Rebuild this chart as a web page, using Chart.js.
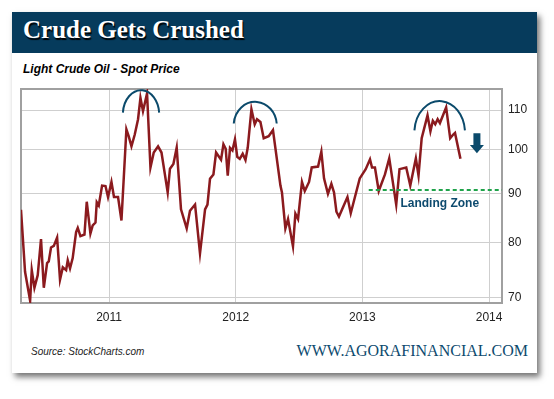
<!DOCTYPE html>
<html><head><meta charset="utf-8">
<script src="https://cdn.jsdelivr.net/npm/chart.js@4"></script>
<style>
html,body{margin:0;padding:0;background:#fff;}
body{width:554px;height:399px;position:relative;overflow:hidden;}
#card{position:absolute;left:12px;top:12px;width:525px;height:361px;background:#fff;box-shadow:3px 4px 6px rgba(0,0,0,0.55);}
#band{position:absolute;left:12px;top:12px;width:525px;height:41px;background:#063b5c;}
#title{position:absolute;left:23px;top:16px;font:bold 25px "Liberation Serif";color:#fff;text-shadow:1px 2px 1px #000;white-space:nowrap;}
#sub{position:absolute;left:23px;top:62px;font:italic bold 12px "Liberation Sans";color:#000;white-space:nowrap;}
#src{position:absolute;left:31px;top:346px;font:italic 10px "Liberation Sans";color:#222;white-space:nowrap;}
#web{position:absolute;right:26px;top:342px;font:16px "Liberation Serif";color:#0d4a6e;white-space:nowrap;}
#wrap{position:absolute;left:0;top:0;width:554px;height:399px;}
</style></head>
<body>
<div id="card"></div>
<div id="band"></div>
<div id="title">Crude Gets Crushed</div>
<div id="sub">Light Crude Oil - Spot Price</div>
<div id="src">Source: StockCharts.com</div>
<div id="web">WWW.AGORAFINANCIAL.COM</div>
<div id="wrap"><canvas id="c" width="554" height="399"></canvas></div>
<script>
// decimal-year dates of the weekly spot prices
const years = [2010.305,2010.337,2010.377,2010.390,2010.411,2010.437,2010.463,2010.485,2010.511,2010.524,
2010.542,2010.564,2010.590,2010.613,2010.635,2010.661,2010.674,2010.692,2010.713,2010.740,
2010.753,2010.774,2010.806,2010.824,2010.853,2010.871,2010.893,2010.903,2010.919,2010.945,
2010.972,2010.992,2011.019,2011.039,2011.071,2011.098,2011.137,2011.155,2011.177,2011.203,
2011.229,2011.248,2011.268,2011.300,2011.327,2011.353,2011.387,2011.414,2011.463,2011.481,
2011.508,2011.534,2011.568,2011.613,2011.639,2011.679,2011.718,2011.758,2011.777,2011.797,
2011.824,2011.845,2011.884,2011.903,2011.921,2011.937,2011.955,2011.974,2011.994,2012.012,
2012.032,2012.055,2012.077,2012.095,2012.124,2012.150,2012.168,2012.195,2012.221,2012.260,
2012.294,2012.353,2012.365,2012.392,2012.413,2012.452,2012.471,2012.492,2012.523,2012.545,
2012.579,2012.600,2012.650,2012.676,2012.697,2012.728,2012.755,2012.776,2012.795,2012.815,
2012.882,2012.908,2012.979,2013.026,2013.060,2013.076,2013.099,2013.129,2013.178,2013.212,
2013.267,2013.293,2013.346,2013.378,2013.422,2013.443,2013.468,2013.514,2013.537,2013.556,
2013.575,2013.594,2013.612,2013.661,2013.693,2013.717,2013.731,2013.774];
// light crude oil spot price, $/bbl
const prices = [86.5,74.5,69.5,74.8,71.7,73.9,80.6,71.7,76.1,76.4,
79.0,79.3,80.9,73.1,75.3,74.8,76.6,75.1,77.0,82.0,
82.8,81.2,81.5,88.2,81.7,83.3,83.9,88.1,87.4,91.7,
91.6,89.2,92.5,89.2,89.2,84.3,105.0,103.3,100.8,103.7,
107.6,113.3,109.7,114.5,95.8,99.3,100.8,99.3,90.2,95.5,
96.6,100.5,86.6,82.7,86.3,87.6,77.9,86.6,87.6,93.2,
94.2,99.3,97.6,101.3,100.2,93.9,100.4,99.8,102.5,98.3,
97.8,99.0,97.5,100.5,110.2,106.3,107.6,106.9,102.8,103.3,
104.8,91.7,90.2,82.7,84.6,79.2,85.7,84.6,92.5,90.5,
92.5,95.8,96.0,99.5,93.3,89.9,92.1,90.2,86.1,85.1,
89.2,85.8,93.3,95.4,97.7,95.8,95.8,90.5,94.2,97.9,
87.6,95.4,95.8,91.7,97.9,93.9,102.8,108.6,104.5,107.2,
106.3,107.6,106.6,110.7,102.8,103.7,104.1,97.8];
const xTicks = [2011, 2012, 2013, 2014];
const yTicks = [70, 80, 90, 100, 110];
const landingLevel = 90.7;
const landingLabel = 'Landing Zone';

// annotation placement, in data units
const arcs = [
  {from: 2011.109, to: 2011.396, top: 115.4, base: 108.8},
  {from: 2011.984, to: 2012.324, top: 112.2, base: 106.0},
  {from: 2013.410, to: 2013.810, top: 112.4, base: 104.1}
];
const arrow = {at: 2013.904, top: 104.0, tip: 99.1};
const landingFrom = 2013.050;
const labelAt = {x: 2013.300, y: 87.8};

const overlay = {
  id: 'overlay',
  beforeDatasetsDraw(chart) {
    const {ctx, chartArea: a} = chart;
    ctx.save();
    ctx.strokeStyle = '#a0a0a0';
    ctx.lineWidth = 2;
    ctx.strokeRect(a.left, a.top, a.right - a.left, a.bottom - a.top);
    ctx.restore();
  },
  afterDatasetsDraw(chart) {
    const {ctx, chartArea: a} = chart;
    const xs = chart.scales.x, ys = chart.scales.y;
    ctx.save();
    // dashed landing line
    ctx.strokeStyle = '#1fa34a';
    ctx.lineWidth = 2;
    ctx.setLineDash([4, 3]);
    const ly = Math.round(ys.getPixelForValue(landingLevel));
    ctx.beginPath();
    ctx.moveTo(xs.getPixelForValue(landingFrom), ly);
    ctx.lineTo(a.right, ly);
    ctx.stroke();
    ctx.setLineDash([]);
    // arcs
    ctx.strokeStyle = '#0b4a6b';
    ctx.lineWidth = 2;
    arcs.forEach(r => {
      const x0 = xs.getPixelForValue(r.from), x1 = xs.getPixelForValue(r.to);
      const yt = ys.getPixelForValue(r.top), yb = ys.getPixelForValue(r.base);
      ctx.beginPath();
      ctx.ellipse((x0 + x1) / 2, yb, (x1 - x0) / 2, yb - yt, 0, Math.PI + 0.08, 2 * Math.PI - 0.08);
      ctx.stroke();
    });
    // arrow
    const ax = xs.getPixelForValue(arrow.at);
    const at = ys.getPixelForValue(arrow.top), tip = ys.getPixelForValue(arrow.tip);
    const hs = at + (tip - at) * 0.58;
    ctx.fillStyle = '#0b4a6b';
    ctx.beginPath();
    ctx.moveTo(ax - 3.5, at); ctx.lineTo(ax + 3.5, at); ctx.lineTo(ax + 3.5, hs);
    ctx.lineTo(ax + 7, hs); ctx.lineTo(ax, tip); ctx.lineTo(ax - 7, hs);
    ctx.lineTo(ax - 3.5, hs); ctx.closePath();
    ctx.fill();
    // label
    ctx.fillStyle = '#0d4a6e';
    ctx.font = 'bold 12px "Liberation Sans"';
    ctx.textBaseline = 'middle';
    ctx.textAlign = 'left';
    ctx.fillText(landingLabel, xs.getPixelForValue(labelAt.x), ys.getPixelForValue(labelAt.y));
    ctx.restore();
  }
};

Chart.defaults.font.family = '"Liberation Sans"';
Chart.defaults.font.size = 12;
Chart.defaults.color = '#222';

new Chart(document.getElementById('c'), {
  type: 'line',
  data: {
    datasets: [{
      data: years.map((y, i) => ({x: y, y: prices[i]})),
      borderColor: '#8b1a1e',
      borderWidth: 2.5,
      pointRadius: 0,
      tension: 0,
      fill: false
    }]
  },
  options: {
    responsive: false,
    animation: false,
    layout: {padding: {left: 21, top: 89, right: 0, bottom: 66}},
    plugins: {legend: {display: false}, tooltip: {enabled: false}},
    scales: {
      x: {
        type: 'linear',
        min: 2010.305,
        max: 2014.102,
        afterBuildTicks: s => { s.ticks = xTicks.map(v => ({value: v})); },
        afterFit: s => { s.height = 30; },
        ticks: {callback: v => String(v), padding: 7, autoSkip: false, maxRotation: 0},
        grid: {color: '#cfcfcf', lineWidth: 1, drawTicks: false},
        border: {display: false}
      },
      y: {
        type: 'logarithmic',
        position: 'right',
        min: 69.11,
        max: 115.72,
        afterBuildTicks: s => { s.ticks = yTicks.map(v => ({value: v})); },
        afterFit: s => { s.width = 52; },
        ticks: {callback: v => String(v), padding: 6, autoSkip: false},
        grid: {color: '#cfcfcf', lineWidth: 1, drawTicks: false},
        border: {display: false}
      }
    }
  },
  plugins: [overlay]
});
</script>
</body></html>
